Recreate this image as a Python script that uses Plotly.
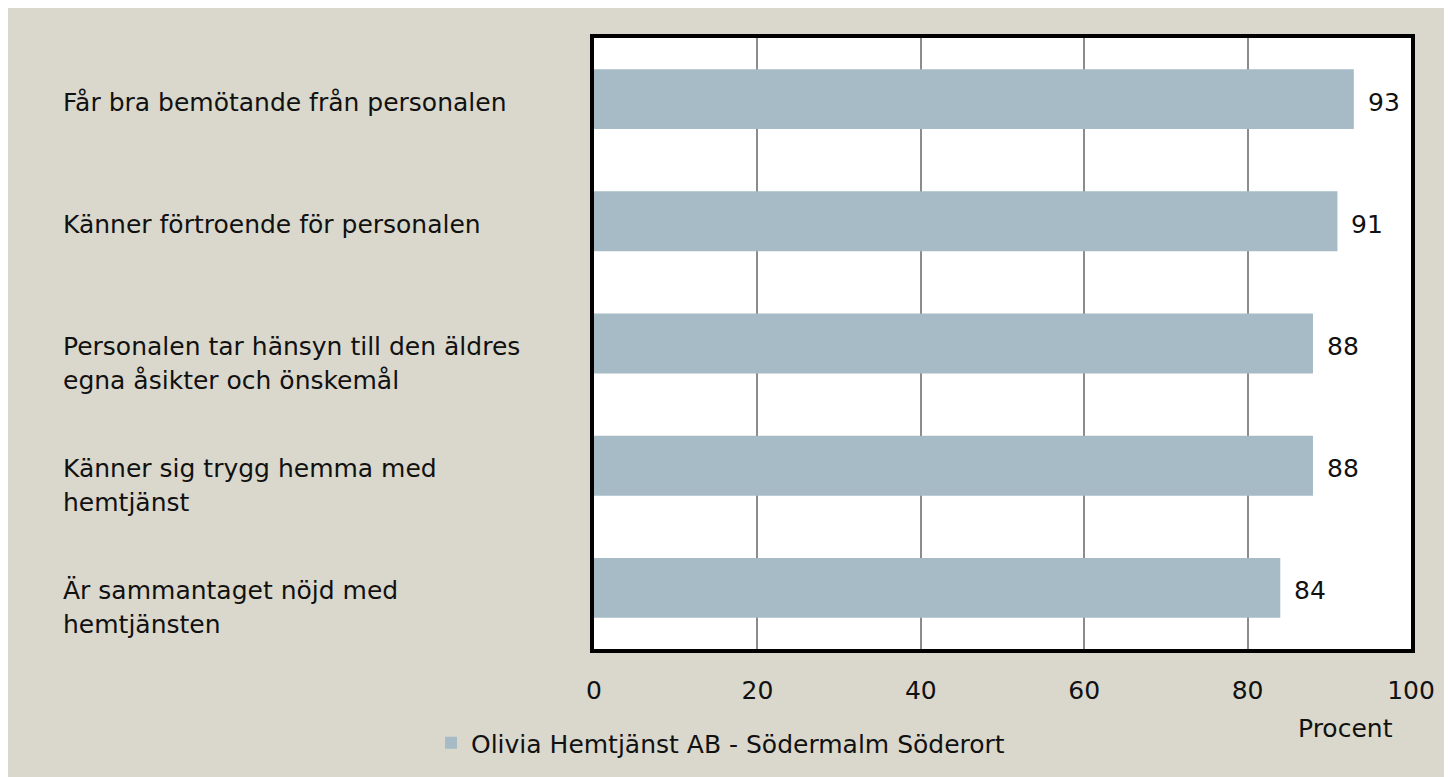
import plotly.graph_objects as go

# data
categories = [
    "Får bra bemötande från personalen",
    "Känner förtroende för personalen",
    "Personalen tar hänsyn till den äldres<br>egna åsikter och önskemål",
    "Känner sig trygg hemma med<br>hemtjänst",
    "Är sammantaget nöjd med<br>hemtjänsten",
]
values = [93, 91, 88, 88, 84]
series_name = "Olivia Hemtjänst AB - Södermalm Söderort"
x_ticks = [0, 20, 40, 60, 80, 100]
x_title = "Procent"

FONT = "DejaVu Sans"
FS = 25
BAR = "#A6BBC6"
BEIGE = "#DAD8CC"
TXT = "#111111"

# plot area in figure pixels (page adds 8px body margin)
L, R, T, B = 586, 1403, 30, 641
W, H = 1452, 777


def px_x(px):
    return (px - L) / (R - L)


def px_y(py):
    return (B - py) / (B - T)


fig = go.Figure()
fig.add_trace(go.Bar(
    x=values,
    y=categories,
    orientation="h",
    name=series_name,
    marker=dict(color=BAR, line=dict(width=0)),
    showlegend=True,
))

annotations = []
for cat, val in zip(categories, values):
    # category label lines, left aligned
    for i, line in enumerate(cat.split("<br>")):
        annotations.append(dict(
            x=px_x(53), xref="paper", y=cat, yref="y",
            text=line, showarrow=False, xanchor="left", yanchor="middle",
            yshift=-3 - 34 * i,
            font=dict(family=FONT, size=FS, color=TXT),
        ))
    # value label
    annotations.append(dict(
        x=val, xref="x", y=cat, yref="y",
        text=str(val), showarrow=False, xanchor="left", yanchor="middle",
        xshift=12, yshift=-3,
        font=dict(family=FONT, size=FS, color=TXT),
    ))

annotations.append(dict(
    x=px_x(1337), xref="paper", y=px_y(720), yref="paper",
    text=x_title, showarrow=False, xanchor="center", yanchor="middle",
    font=dict(family=FONT, size=FS, color=TXT),
))

fig.update_layout(
    width=W, height=H,
    margin=dict(l=L, r=W - R, t=T, b=H - B, pad=0),
    paper_bgcolor=BEIGE,
    plot_bgcolor="white",
    bargap=0.51,
    font=dict(family=FONT, size=FS, color=TXT),
    annotations=annotations,
    legend=dict(
        orientation="h", x=px_x(423), xanchor="left",
        y=px_y(735), yanchor="middle",
        bgcolor="rgba(0,0,0,0)",
        font=dict(family=FONT, size=FS, color=TXT),
        itemwidth=30,
    ),
    xaxis=dict(
        range=[0, 100], tickvals=x_ticks, ticks="",
        showgrid=True, gridcolor="#8C8C8C", gridwidth=1.5,
        zeroline=False, showline=True, linecolor="black", linewidth=4,
        mirror=True, ticklabelstandoff=16,
        tickfont=dict(family=FONT, size=FS, color=TXT),
    ),
    yaxis=dict(
        autorange="reversed", showticklabels=False, ticks="",
        showgrid=False, showline=True, linecolor="black", linewidth=4,
        mirror=True,
    ),
)

fig.write_html("out.html")
